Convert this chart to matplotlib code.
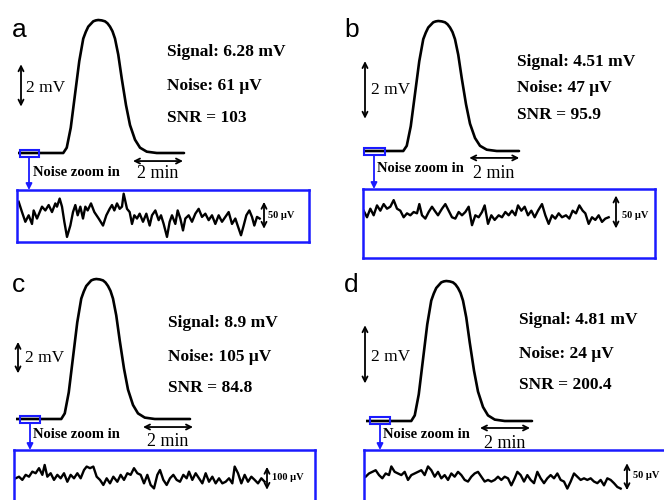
import matplotlib
matplotlib.use('Agg')
import matplotlib.pyplot as plt
from matplotlib.patches import Rectangle, FancyArrowPatch
from matplotlib.transforms import Affine2D

W, H = 664, 500
BLUE = '#1a1aff'
SERIF = 'Liberation Serif'

# peak profile: time (min) and fraction of peak height
PEAK_T = [1.81, 1.95, 2.11, 2.28, 2.45, 2.61, 2.71, 2.81, 3.01, 3.11, 3.21, 3.35, 3.48,
          3.58, 3.68, 3.78, 3.88, 4.01, 4.15, 4.32, 4.48, 4.68, 4.88, 5.15, 5.55]
PEAK_FRAC = [0, 0.04, 0.19, 0.44, 0.69, 0.86, 0.91, 0.95, 0.99, 0.997, 1.0, 0.997, 0.99,
             0.975, 0.95, 0.915, 0.86, 0.74, 0.56, 0.36, 0.21, 0.10, 0.04, 0.01, 0]

PANELS = ['a', 'b', 'c', 'd']
SIGNAL_MV = [6.28, 4.51, 8.9, 4.81]
NOISE_UV = [61, 47, 105, 24]
SNR = ['103', '95.9', '84.8', '200.4']
NOISE_BAR_UV = [50, 50, 100, 50]
BASE_START = [0, 0.28, 0, 0]
BASE_END = [6.64, 6.44, 6.96, 6.64]

# noise zoom-in traces: (sample position, µV)
NOISE_A = [(5, 25), (15, 6), (25, -12), (35, 0), (45, -16), (50, 9), (60, -6), (75, 16), (85, 9),
           (95, 19), (105, 6), (115, 22), (120, 16), (128, 31), (135, 16), (142, -12), (150, -40),
           (160, -19), (168, 6), (175, 19), (182, 0), (190, 16), (198, -6), (205, 16), (212, 9),
           (222, 22), (232, 6), (245, -6), (258, -19), (268, 0), (278, 12), (285, 19), (292, 9),
           (300, 22), (308, 12), (315, 16), (320, 40), (330, 12), (338, 6), (345, -16), (352, 0),
           (360, -6), (368, 3), (378, -12), (388, 3), (398, -19), (405, 0), (415, 9), (425, -9),
           (432, 0), (440, -16), (450, -40), (458, -12), (465, 0), (475, -16), (482, 9), (490, -6),
           (498, -28), (505, -6), (515, 0), (525, -12), (535, 3), (545, 12), (555, -3), (565, 3),
           (575, -9), (585, 0), (595, -16), (605, 0), (615, -12), (625, -3), (635, 6), (645, -16),
           (655, -6), (662, -19), (672, -37), (680, -19), (688, 0), (697, 9), (705, -3), (712, -19),
           (720, -3), (728, -6)]
NOISE_B = [(5, 2), (15, -8), (25, 5), (35, -5), (45, 10), (55, 2), (65, 12), (75, 5), (85, 8),
           (95, 18), (105, 5), (115, 2), (125, -8), (135, -2), (145, -5), (155, 0), (165, -2),
           (172, 12), (180, -5), (190, -10), (200, 0), (210, 8), (218, 2), (228, -5), (240, 5),
           (250, 12), (260, 2), (270, -8), (280, -10), (290, 0), (300, -5), (310, 0), (320, 8),
           (330, -20), (340, -5), (350, -8), (360, 0), (368, 10), (378, -18), (388, -5), (398, -12),
           (410, -5), (420, -8), (430, 0), (440, -5), (450, 2), (460, -5), (468, 10), (478, 2),
           (488, 8), (498, -5), (508, 2), (518, -8), (528, 2), (540, 12), (550, -5), (560, -18),
           (570, -5), (580, -10), (590, -2), (600, -8), (612, -5), (622, -10), (632, 2), (642, -2),
           (652, 10), (662, 2), (670, -2), (680, -18), (690, -8), (700, -12), (710, -5), (720, -15),
           (730, -10), (740, -8)]
NOISE_C = [(5, 0), (15, 7), (25, -7), (35, 15), (45, 7), (55, 29), (65, 22), (75, 44), (85, 15),
           (92, 58), (100, 7), (110, 22), (120, -7), (130, 15), (140, 0), (150, 22), (160, -15),
           (170, 15), (180, 0), (190, 22), (200, 0), (210, 36), (218, 51), (228, 44), (238, 51),
           (248, 7), (258, -7), (268, -29), (278, 0), (288, -22), (298, 7), (310, -15), (320, 15),
           (330, -7), (340, 22), (350, 15), (360, 44), (370, 22), (380, 15), (390, -22), (400, 15),
           (410, -29), (420, -44), (430, 15), (438, 36), (448, -7), (458, -29), (468, 0), (478, 15),
           (488, -7), (498, -15), (508, 15), (518, 0), (525, 29), (535, -7), (545, 22), (555, 0),
           (565, -22), (575, 22), (585, -15), (595, 7), (605, -22), (615, 0), (625, -22), (635, -15),
           (645, 0), (655, -22), (662, 51), (672, 22), (682, -22), (692, 15), (702, -15), (712, 7),
           (722, -7), (732, -22), (742, 0), (752, -15)]
NOISE_D = [(5, 0), (15, 6), (25, 9), (35, 12), (45, 3), (55, -3), (65, 6), (75, 3), (82, 19),
           (92, 9), (102, 6), (112, 3), (122, 9), (132, -6), (142, 3), (152, 6), (162, 9), (172, 12),
           (182, 3), (192, 19), (202, 12), (212, 0), (222, 9), (232, -3), (242, 3), (252, -6),
           (262, 6), (272, 0), (282, 9), (292, 3), (302, -6), (312, -9), (322, 0), (332, 6), (342, 9),
           (352, 0), (362, -9), (372, -6), (382, -9), (392, -6), (402, 0), (412, -6), (422, 0),
           (432, -3), (442, -16), (452, -3), (460, 9), (470, 3), (480, -9), (490, 3), (500, -6),
           (510, -12), (520, 9), (530, -3), (540, -12), (550, -3), (560, 3), (570, -3), (580, 6),
           (590, -6), (600, -9), (610, -22), (620, -9), (630, 6), (640, 0), (650, -6), (660, -3),
           (670, -6), (680, -3), (690, -9), (700, -12), (710, -6), (720, -16), (730, -3), (740, -6),
           (750, -12), (760, -19), (770, -22)]
NOISE = [NOISE_A, NOISE_B, NOISE_C, NOISE_D]

# layout in figure pixels (from top-left)
PX_PER_MIN = 25
ORIGIN_X = [18, 358, 16, 366]          # pixel of t = 0
BASE_Y = [153, 151, 419, 421]
TOP_Y = [20, 21, 279, 281]
INSET = [(17, 190, 309, 242), (363, 189, 655, 258), (14, 450, 315, 520), (364, 450, 680, 520)]
NOISE_OFF_X = [17, 362, 14, 364]
NOISE_MID_Y = [215.3, 212, 478.3, 476.7]
NOISE_PX_PER_UV = [0.54, 0.66, 0.23, 0.54]
NOISE_BAR_X = [264, 616, 267, 627]
MV_BAR = [(0.12, 2.19), (0.28, 1.12), (0.08, 2.9), (-0.04, 1.29)]   # (t, lower mV)
MIN_BAR = [(4.6, -0.38), (4.45, -0.24), (5.08, -0.51), (4.56, -0.24)]
LABEL_XY = [(12, 37), (344, 37), (12, 292), (344, 292)]
STAT_XY = [(167, 52, 86, 118), (517, 62, 88, 115), (168, 323, 357, 388), (519, 320, 354, 385)]
MV_TXT = [(26, 88), (371, 90), (25, 358), (371, 357)]
ZOOM_TXT = [(33, 172), (377, 169), (33, 434), (383, 434)]
MIN_TXT = [(137, 174), (473, 174), (147, 441), (484, 443)]
UV_TXT = [(268, 216), (622, 215), (272, 478), (633, 476)]
SEL_BOX = [(20, 150, 39, 157), (364, 148, 385, 155), (20, 416, 40, 423), (370, 417, 390, 424)]
SEL_ARROW_X = [29, 374, 30, 380]

fig = plt.figure(figsize=(W / 100, H / 100), dpi=100)
px = Affine2D().scale(1 / W, -1 / H).translate(0, 1) + fig.transFigure


def ax_px(l, t, r, b):
    ax = fig.add_axes([l / W, 1 - b / H, (r - l) / W, (b - t) / H])
    return ax


def dbl_arrow(ax, p0, p1):
    ax.annotate('', xy=p1, xytext=p0, annotation_clip=False,
                arrowprops=dict(arrowstyle='<->', color='black', lw=1.3,
                                shrinkA=0, shrinkB=0, mutation_scale=9))


for i, name in enumerate(PANELS):
    sig = SIGNAL_MV[i]
    ppm = (BASE_Y[i] - TOP_Y[i]) / sig
    x0 = ORIGIN_X[i]
    ax = ax_px(x0, TOP_Y[i] - 6, x0 + 7.4 * PX_PER_MIN, BASE_Y[i] + 14)
    ax.set_xlim(0, 7.4)
    ax.set_ylim(-14 / ppm, sig + 6 / ppm)
    ax.axis('off')
    t = [BASE_START[i]] + PEAK_T + [BASE_END[i]]
    v = [0] + [f * sig for f in PEAK_FRAC] + [0]
    ax.plot(t, v, color='black', lw=1.9, solid_capstyle='round', solid_joinstyle='round')
    bt, bv = MV_BAR[i]
    dbl_arrow(ax, (bt, bv), (bt, bv + 2))
    mt, mv = MIN_BAR[i]
    dbl_arrow(ax, (mt, mv), (mt + 2, mv))

    # noise inset
    l, tp, r, b = INSET[i]
    k = NOISE_PX_PER_UV[i]
    off = NOISE_OFF_X[i]
    mid = NOISE_MID_Y[i]
    ins = ax_px(l, tp, r, b)
    ins.set_xlim((l - off) * 3, (r - off) * 3)
    ins.set_ylim(-(b - mid) / k, (mid - tp) / k)
    ins.set_xticks([])
    ins.set_yticks([])
    for s in ins.spines.values():
        s.set_color(BLUE)
        s.set_linewidth(1.8)
    nx = [p[0] for p in NOISE[i]]
    ny = [p[1] for p in NOISE[i]]
    ins.plot(nx, ny, color='black', lw=1.7, solid_joinstyle='round')
    half = NOISE_BAR_UV[i] / 2
    dbl_arrow(ins, ((NOISE_BAR_X[i] - off) * 3, -half), ((NOISE_BAR_X[i] - off) * 3, half))

    # selection box and pointer
    sl, st, sr, sb = SEL_BOX[i]
    fig.add_artist(Rectangle((sl, st), sr - sl, sb - st, transform=px, fill=False,
                             ec=BLUE, lw=1.5))
    fig.add_artist(FancyArrowPatch((SEL_ARROW_X[i], sb), (SEL_ARROW_X[i], tp), transform=px,
                                   arrowstyle='-|>', mutation_scale=9, color=BLUE, lw=1.3,
                                   shrinkA=0, shrinkB=0))

    # texts
    lx, ly = LABEL_XY[i]
    fig.text(lx, ly, name, transform=px, fontsize=19, family='Liberation Sans', va='baseline')
    sx, y1, y2, y3 = STAT_XY[i]
    for yy, s in zip((y1, y2, y3), (f'Signal: {sig:g} mV', f'Noise: {NOISE_UV[i]} μV',
                                    f'SNR = {SNR[i]}')):
        fig.text(sx, yy, s, transform=px, fontsize=12.5, family=SERIF, weight='bold', va='center')
    fig.text(*MV_TXT[i], '2 mV', transform=px, fontsize=12.5, family=SERIF, va='center')
    fig.text(*ZOOM_TXT[i], 'Noise zoom in', transform=px, fontsize=10.5, family=SERIF,
             weight='bold', va='center')
    fig.text(*MIN_TXT[i], '2 min', transform=px, fontsize=13, family=SERIF, va='center')
    fig.text(*UV_TXT[i], f'{NOISE_BAR_UV[i]} μV', transform=px, fontsize=7.5, family=SERIF,
             weight='bold', va='center')

fig.savefig('out.png', dpi=100)
